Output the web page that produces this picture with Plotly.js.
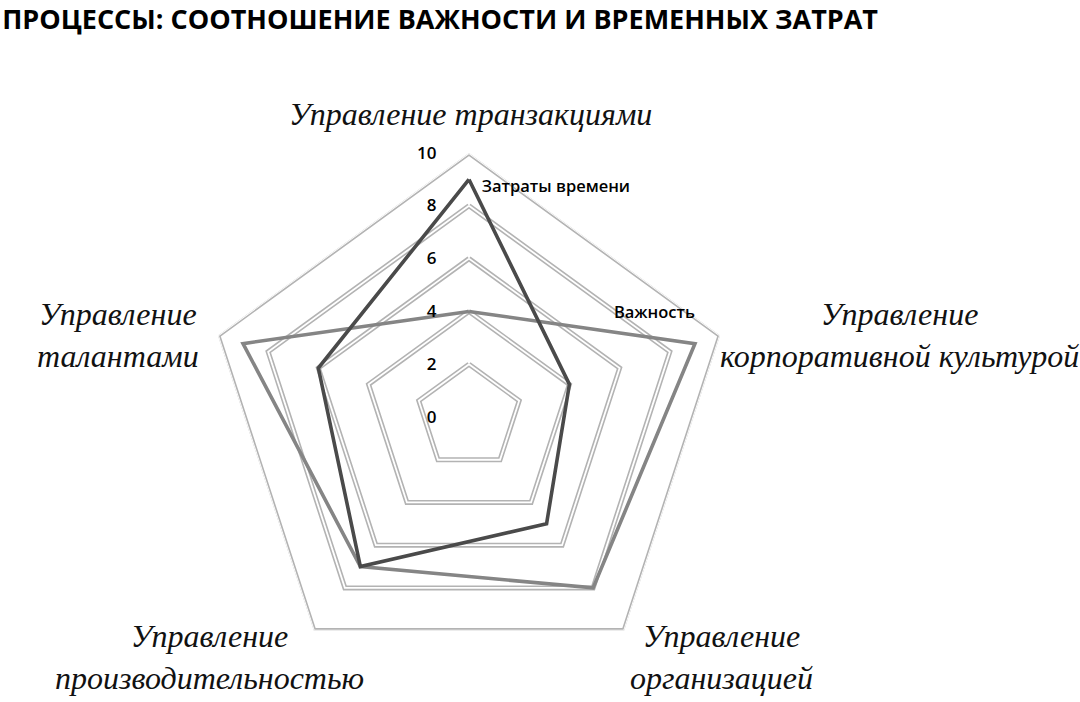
<!DOCTYPE html>
<html>
<head>
<meta charset="utf-8">
<script src="https://cdn.plot.ly/plotly-3.0.1.min.js"></script>
<style>
html,body{margin:0;padding:0;background:#fff;}
#chart{width:1080px;height:702px;}
</style>
</head>
<body>
<div id="chart"></div>
<script>
// ---- data ----
const categories = [
  'Управление транзакциями',
  'Управление корпоративной культурой',
  'Управление организацией',
  'Управление производительностью',
  'Управление талантами'
];
const labelLines = [
  'Управление транзакциями',
  'Управление<br>корпоративной культурой',
  'Управление<br>организацией',
  'Управление<br>производительностью',
  'Управление<br>талантами'
];
const seriesNames = ['Затраты времени', 'Важность'];
const timeValues = [9, 4, 5, 7, 6];
const importanceValues = [4, 9, 8, 7, 9];
const tickValues = [0, 2, 4, 6, 8, 10];
const titleText = 'ПРОЦЕССЫ: СООТНОШЕНИЕ ВАЖНОСТИ И ВРЕМЕННЫХ ЗАТРАТ';

// ---- build ----
function closed(arr){ return arr.concat([arr[0]]); }
const thetaClosed = closed(categories);

const traces = [];
// double-line grid rings from tick values
tickValues.filter(t => t > 0).forEach(t => {
  const r = categories.map(() => t);
  traces.push({type:'scatterpolar', mode:'lines', r:closed(r), theta:thetaClosed, cliponaxis:false,
    line:{color:'#b3b3b3', width:5}, hoverinfo:'skip', showlegend:false});
  traces.push({type:'scatterpolar', mode:'lines', r:closed(r), theta:thetaClosed, cliponaxis:false,
    line:{color:'#ffffff', width:1.8}, hoverinfo:'skip', showlegend:false});
});

traces.push({type:'scatterpolar', mode:'lines', name:seriesNames[1], cliponaxis:false,
  r:closed(importanceValues), theta:thetaClosed,
  line:{color:'#858585', width:3.6}, showlegend:false});
traces.push({type:'scatterpolar', mode:'lines', name:seriesNames[0], cliponaxis:false,
  r:closed(timeValues), theta:thetaClosed,
  line:{color:'#4a4a4a', width:3.6}, showlegend:false});

// series labels
traces.push({type:'scatterpolar', mode:'text', r:[timeValues[0]], theta:[categories[0]], cliponaxis:false,
  text:['   ' + seriesNames[0]], textposition:'bottom right',
  textfont:{family:'Open Sans', size:16.5, color:'#000', weight:600}, hoverinfo:'skip', showlegend:false});
traces.push({type:'scatterpolar', mode:'text', r:[importanceValues[1]], theta:[categories[1]], cliponaxis:false,
  text:[seriesNames[1] + '<br> '], textposition:'top left',
  textfont:{family:'Open Sans', size:16.5, color:'#000', weight:600}, hoverinfo:'skip', showlegend:false});

const labelPos = [
  {x:0.436, y:0.838},
  {x:0.833, y:0.523},
  {x:0.668, y:0.064},
  {x:0.194, y:0.064},
  {x:0.109, y:0.523}
];
const annotations = labelLines.map((t, i) => ({
  text:'<i>' + t.split('<br>').join('</i><br><i>') + '</i>',
  xref:'paper', yref:'paper', x:labelPos[i].x, y:labelPos[i].y,
  xanchor:'center', yanchor:'middle', align:'center', showarrow:false,
  font:{family:'Liberation Serif', size:32, color:'#111'}
}));

const layout = {
  width:1080, height:702,
  margin:{l:0, r:0, t:0, b:0},
  paper_bgcolor:'#ffffff',
  showlegend:false,
  title:{text:titleText, x:0.002, xanchor:'left', xref:'paper', y:0.972, yanchor:'middle', yref:'container',
    font:{family:'Open Sans', size:27, color:'#000', weight:'bold'}},
  polar:{
    domain:{x:[0.1898, 0.6787], y:[0.0299, 0.782]},
    bgcolor:'rgba(0,0,0,0)',
    gridshape:'linear',
    radialaxis:{range:[0, 10], tickvals:tickValues, angle:90, side:'counterclockwise',
      showgrid:false, showline:false, ticks:'outside', ticklen:26, tickcolor:'rgba(0,0,0,0)',
      tickangle:90, tickfont:{family:'Open Sans', size:17, color:'#000', weight:600}},
    angularaxis:{type:'category', categoryarray:categories, rotation:90, direction:'clockwise',
      showgrid:false, showline:false, showticklabels:false, ticks:''}
  },
  annotations:annotations
};

Plotly.newPlot('chart', traces, layout, {displayModeBar:false, staticPlot:true});
</script>
</body>
</html>
